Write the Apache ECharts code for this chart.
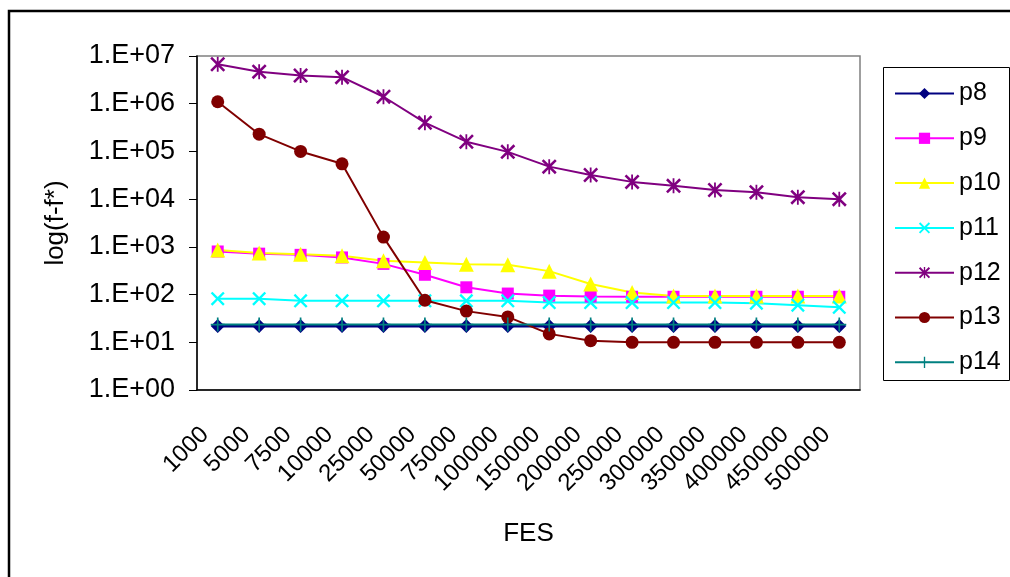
<!DOCTYPE html>
<html>
<head>
<meta charset="utf-8">
<script src="https://cdn.jsdelivr.net/npm/echarts@6/dist/echarts.min.js"></script>
<style>html,body{margin:0;padding:0;background:#fff;}#c{width:1010px;height:577px;}</style>
</head>
<body>
<div id="c"></div>
<script>
const categories = ['1000','5000','7500','10000','25000','50000','75000','100000','150000','200000','250000','300000','350000','400000','450000','500000'];
const p8  = [22,22,22,22,22,22,22,22,22,22,22,22,22,22,22,22];
const p9  = [800,720,680,600,440,260,142,105,95,91,90,90,90,90,90,90];
const p10 = [860,740,700,650,510,470,430,420,310,167,110,93,93,93,93,93];
const p11 = [82,82,74,74,74,74,74,74,68,68,68,68,68,66,60,54];
const p12 = [6700000,4700000,3900000,3600000,1400000,400000,160000,98000,48000,32000,23000,19000,15500,14000,11000,10000];
const p13 = [1100000,230000,100000,55000,1600,76,45,34,15,10.8,10,10,10,10,10,10];
const p14 = [23.5,23.5,23.5,23.5,23.5,23.5,23.5,23.5,23.5,23.5,23.5,23.5,23.5,23.5,23.5,23.5];

const FONT = 'Liberation Sans';
const xPath = 'path://M0,1.2L1.2,0L5,3.8L8.8,0L10,1.2L6.2,5L10,8.8L8.8,10L5,6.2L1.2,10L0,8.8L3.8,5Z';
const plusPath = 'path://M4.4,0H5.6V4.4H10V5.6H5.6V10H4.4V5.6H0V4.4H4.4Z';
const starPath = 'path://M0,1.2L1.2,0L5,3.8L8.8,0L10,1.2L6.2,5L10,8.8L8.8,10L5,6.2L1.2,10L0,8.8L3.8,5Z M4.4,0H5.6V10H4.4Z';

function mk(name, data, color, symbol, size, width) {
  return {
    name, type: 'line', data, symbol, symbolSize: size,
    itemStyle: { color: color },
    lineStyle: { color: color, width: width || 2 },
    emphasis: { disabled: true },
    animation: false
  };
}

const chart = echarts.init(document.getElementById('c'));
chart.setOption({
  animation: false,
  backgroundColor: '#fff',
  textStyle: { fontFamily: FONT },
  grid: { left: 197, top: 56, right: 150, bottom: 187, show: true, borderColor: '#808080', borderWidth: 1.5, containLabel: false },
  graphic: [
    { type: 'rect', shape: { x: 9, y: 11, width: 1100, height: 700 }, style: { fill: 'none', stroke: '#000', lineWidth: 2.5 }, z: 100 },
    { type: 'rect', shape: { x: 883.5, y: 67.5, width: 126, height: 313 }, style: { fill: 'none', stroke: '#000', lineWidth: 1 }, z: 100 }
  ],
  legend: {
    orient: 'vertical', left: 894, top: 81, padding: 0,
    itemWidth: 59, itemHeight: 14, itemGap: 19.8,
    textStyle: { fontFamily: FONT, fontSize: 25, color: '#000', lineHeight: 25 },
    selectedMode: false
  },
  xAxis: {
    type: 'category', data: categories, boundaryGap: true,
    name: 'FES', nameLocation: 'middle', nameGap: 131,
    nameTextStyle: { fontFamily: FONT, fontSize: 26, color: '#000' },
    axisLine: { lineStyle: { color: '#000', width: 1.5 } },
    axisTick: { length: 9, lineStyle: { color: '#000' } },
    axisLabel: { rotate: 45, fontFamily: FONT, fontSize: 24, color: '#000', margin: 45, interval: 0, padding: [0, 6, 0, 0], verticalAlign: 'bottom' },
    splitLine: { show: false }
  },
  yAxis: {
    type: 'log', logBase: 10, min: 1, max: 10000000,
    name: 'log(f-f*)', nameLocation: 'middle', nameGap: 128,
    nameTextStyle: { fontFamily: FONT, fontSize: 26, color: '#000' },
    axisLine: { show: true, lineStyle: { color: '#000', width: 1.5 } },
    axisTick: { show: true, length: 8, lineStyle: { color: '#000' } },
    axisLabel: {
      fontFamily: FONT, fontSize: 27, color: '#000', margin: 22,
      formatter: function (v) { const e = Math.round(Math.log10(v)); return '1.E+' + (e < 10 ? '0' + e : e); }
    },
    splitLine: { show: false }
  },
  series: [
    mk('p8', p8, '#000080', 'diamond', 14, 3),
    mk('p9', p9, '#FF00FF', 'rect', 12),
    mk('p10', p10, '#FFFF00', 'triangle', 15),
    mk('p11', p11, '#00FFFF', xPath, 14),
    mk('p12', p12, '#800080', starPath, 15),
    mk('p13', p13, '#800000', 'circle', 13),
    mk('p14', p14, '#008080', plusPath, 14)
  ]
});
</script>
</body>
</html>
